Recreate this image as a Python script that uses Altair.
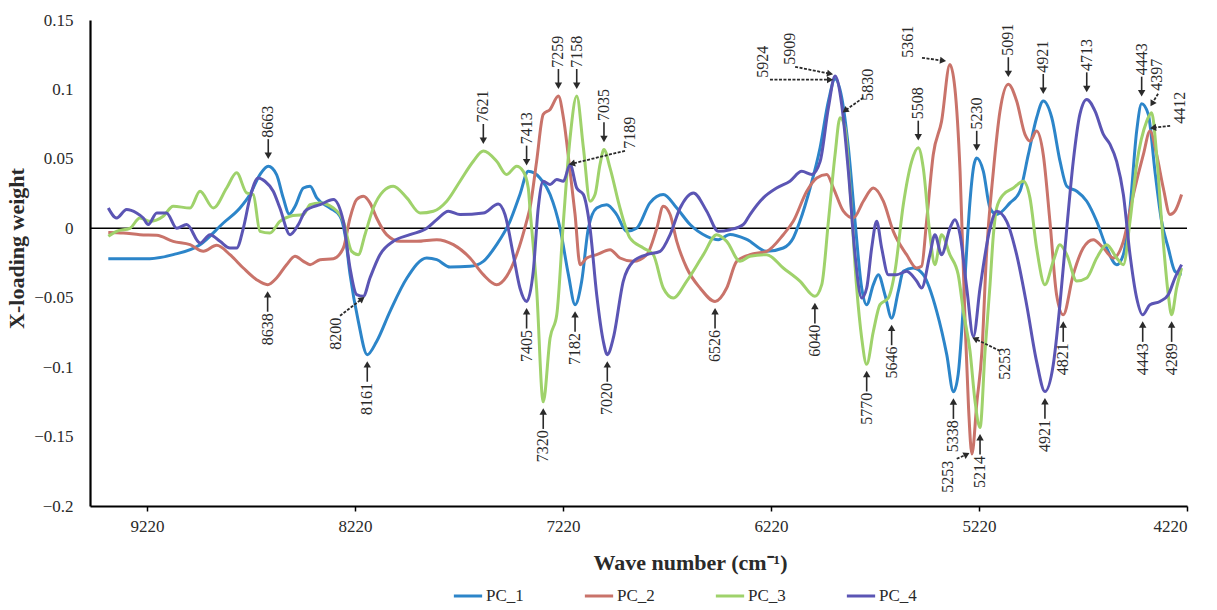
import altair as alt
import pandas as pd

SERIES = ["PC_1", "PC_2", "PC_3", "PC_4"]
COLORS = ["#2C85C9", "#C9736A", "#9FD26B", "#5B55B4"]

PC1 = [(9406,-0.022),(9206,-0.0219),(9094,-0.019),(8965,-0.0118),(8853,0.0038),(8773,0.0146),(8725,0.0243),(8677,0.0387),(8637,0.0447),(8597,0.0387),(8565,0.0219),(8536,0.0103),(8508,0.0159),(8468,0.029),(8436,0.0303),(8404,0.0219),(8340,0.0146),(8292,0.0087),(8268,-0.0045),(8244,-0.033),(8204,-0.067),(8161,-0.091),(8116,-0.0815),(8052,-0.060),(7971,-0.036),(7875,-0.0214),(7827,-0.0226),(7763,-0.0279),(7667,-0.0274),(7603,-0.0238),(7539,-0.0118),(7475,0.005),(7427,0.0243),(7387,0.041),(7331,0.0363),(7282,0.0243),(7234,0.0),(7194,-0.0334),(7162,-0.055),(7130,-0.038),(7098,0.0),(7058,0.0146),(7010,0.017),(6962,0.0099),(6914,-0.0022),(6866,0.0),(6802,0.0183),(6738,0.0243),(6673,0.0146),(6609,0.0027),(6529,-0.0058),(6473,-0.0082),(6417,-0.0045),(6337,-0.008),(6241,-0.0166),(6161,-0.0142),(6113,-0.007),(6081,0.005),(6032,0.029),(5984,0.058),(5944,0.0916),(5912,0.1075),(5880,0.0942),(5848,0.058),(5816,0.005),(5784,-0.043),(5760,-0.055),(5728,-0.0406),(5704,-0.0334),(5672,-0.048),(5640,-0.0647),(5608,-0.0454),(5584,-0.031),(5536,-0.0286),(5488,-0.0334),(5423,-0.06),(5375,-0.091),(5343,-0.1178),(5320,-0.105),(5297,-0.06),(5279,-0.015),(5263,0.02),(5245,0.045),(5231,0.0507),(5199,0.041),(5167,0.0146),(5135,0.01),(5071,0.0183),(5023,0.0267),(4983,0.053),(4943,0.0796),(4911,0.0916),(4870,0.0796),(4830,0.048),(4798,0.0303),(4750,0.0267),(4702,0.0195),(4654,0.005),(4606,-0.0142),(4558,-0.0262),(4526,-0.019),(4494,0.0146),(4462,0.07),(4438,0.0897),(4406,0.082),(4374,0.041),(4342,0.005),(4310,-0.0142),(4278,-0.031),(4246,-0.0334)]

PC2 = [(9406,-0.003),(9334,-0.0034),(9254,-0.0046),(9173,-0.005),(9094,-0.0094),(9013,-0.0118),(8949,-0.0166),(8885,-0.0123),(8821,-0.019),(8757,-0.0286),(8693,-0.037),(8640,-0.0406),(8597,-0.0358),(8549,-0.0262),(8508,-0.0202),(8468,-0.0238),(8436,-0.0262),(8388,-0.0226),(8324,-0.0219),(8276,-0.0142),(8244,0.0074),(8212,0.0207),(8180,0.0231),(8148,0.0183),(8116,0.0074),(8068,-0.0046),(8004,-0.0094),(7923,-0.0094),(7827,-0.0082),(7747,-0.0118),(7667,-0.0214),(7603,-0.0334),(7539,-0.0406),(7491,-0.0346),(7443,-0.019),(7395,0.005),(7379,0.0146),(7347,0.048),(7315,0.082),(7282,0.0856),(7242,0.0952),(7218,0.0796),(7186,0.041),(7162,0.0099),(7138,-0.0262),(7106,-0.0214),(7058,-0.019),(6994,-0.0154),(6946,-0.0214),(6882,-0.0238),(6817,-0.019),(6769,0.0),(6738,0.0159),(6705,0.0099),(6673,-0.0094),(6625,-0.0286),(6561,-0.043),(6489,-0.0527),(6433,-0.043),(6385,-0.0238),(6321,-0.019),(6241,-0.0166),(6161,-0.0046),(6113,0.005),(6048,0.0267),(6000,0.0363),(5952,0.0387),(5920,0.029),(5872,0.0123),(5824,0.0074),(5776,0.0195),(5728,0.029),(5680,0.0195),(5632,-0.0022),(5568,-0.019),(5520,-0.0286),(5496,-0.0274),(5472,0.005),(5440,0.053),(5400,0.077),(5360,0.118),(5336,0.101),(5311,0.041),(5287,-0.067),(5270,-0.13),(5254,-0.1626),(5230,-0.125),(5206,-0.0887),(5184,-0.019),(5151,0.041),(5119,0.0844),(5079,0.1037),(5039,0.0916),(4999,0.0676),(4975,0.0628),(4943,0.07),(4911,0.053),(4879,0.005),(4847,-0.0478),(4815,-0.0623),(4767,-0.0334),(4719,-0.0142),(4671,-0.0082),(4622,-0.0142),(4574,-0.0214),(4526,-0.0094),(4478,0.0243),(4430,0.053),(4398,0.07),(4366,0.053),(4334,0.029),(4302,0.0099),(4278,0.0123),(4246,0.0243)]

PC3 = [(9406,-0.0058),(9366,-0.0022),(9302,0.0),(9254,0.0074),(9206,0.005),(9142,0.0087),(9094,0.0159),(9013,0.0146),(8965,0.0267),(8901,0.0146),(8837,0.029),(8789,0.04),(8741,0.0255),(8709,0.0243),(8677,-0.0022),(8629,-0.0034),(8581,0.005),(8532,0.0087),(8468,0.0099),(8436,0.017),(8388,0.0183),(8324,0.0146),(8276,0.005),(8236,-0.0166),(8204,-0.019),(8172,-0.0046),(8132,0.0146),(8084,0.0267),(8036,0.0303),(7971,0.0219),(7907,0.011),(7843,0.0123),(7779,0.0195),(7715,0.0339),(7651,0.0483),(7603,0.0556),(7539,0.0483),(7491,0.0387),(7443,0.0447),(7411,0.041),(7387,0.029),(7379,0.0146),(7347,-0.043),(7315,-0.125),(7282,-0.079),(7250,-0.0623),(7218,0.005),(7186,0.065),(7154,0.0952),(7122,0.058),(7090,0.0195),(7066,0.0243),(7042,0.046),(7023,0.0568),(6994,0.0435),(6946,0.0146),(6898,-0.007),(6834,-0.0142),(6786,-0.019),(6738,-0.043),(6690,-0.0502),(6625,-0.038),(6545,-0.019),(6481,-0.0046),(6433,-0.0094),(6369,-0.0238),(6321,-0.0202),(6241,-0.019),(6161,-0.0286),(6081,-0.038),(6009,-0.049),(5976,-0.0406),(5944,0.005),(5912,0.053),(5888,0.0796),(5864,0.0724),(5840,0.029),(5808,-0.043),(5784,-0.079),(5760,-0.098),(5728,-0.0743),(5696,-0.055),(5656,-0.0502),(5624,-0.031),(5584,0.017),(5544,0.048),(5512,0.058),(5488,0.0435),(5456,-0.0046),(5432,-0.0262),(5400,-0.0046),(5360,-0.019),(5320,-0.0334),(5295,-0.06),(5263,-0.0887),(5239,-0.1246),(5215,-0.1435),(5191,-0.0887),(5167,-0.0406),(5151,-0.005),(5135,0.0146),(5103,0.0243),(5055,0.029),(5007,0.0339),(4975,0.0219),(4943,-0.0142),(4903,-0.0406),(4863,-0.0238),(4831,-0.0118),(4798,-0.019),(4750,-0.038),(4702,-0.0358),(4654,-0.0214),(4606,-0.0118),(4558,-0.0214),(4526,-0.0262),(4494,0.005),(4462,0.046),(4414,0.077),(4390,0.0832),(4366,0.053),(4342,0.005),(4310,-0.0478),(4294,-0.0623),(4270,-0.043),(4246,-0.0286)]

PC4 = [(9406,0.0146),(9366,0.0074),(9318,0.0135),(9270,0.011),(9238,0.0074),(9214,0.0027),(9173,0.011),(9126,0.011),(9077,0.0),(9029,0.0027),(8965,-0.0106),(8917,-0.0046),(8869,-0.0094),(8821,-0.0142),(8789,-0.0142),(8757,0.0),(8725,0.0219),(8685,0.0363),(8653,0.0339),(8613,0.0267),(8581,0.0146),(8532,-0.0046),(8492,0.0027),(8460,0.0123),(8436,0.0146),(8388,0.017),(8324,0.0207),(8276,0.005),(8244,-0.0286),(8212,-0.0478),(8180,-0.049),(8148,-0.0358),(8100,-0.019),(8036,-0.0094),(7956,-0.0046),(7875,0.0),(7827,0.0062),(7771,0.0123),(7715,0.0099),(7603,0.011),(7531,0.0175),(7499,0.0099),(7459,-0.019),(7427,-0.043),(7395,-0.0527),(7363,-0.031),(7339,0.0146),(7315,0.0339),(7282,0.0315),(7250,0.0351),(7218,0.0339),(7186,0.046),(7154,0.029),(7122,0.0243),(7090,0.0),(7058,-0.0478),(7026,-0.0815),(7007,-0.091),(6978,-0.079),(6930,-0.038),(6882,-0.0238),(6817,-0.019),(6753,-0.0166),(6705,-0.0046),(6657,0.0146),(6593,0.0255),(6529,0.0123),(6473,-0.0022),(6417,-0.001),(6353,0.0027),(6321,0.0099),(6257,0.0219),(6193,0.029),(6129,0.0339),(6072,0.041),(6024,0.0387),(5984,0.048),(5944,0.0868),(5912,0.1096),(5880,0.089),(5848,0.041),(5816,-0.019),(5784,-0.0502),(5760,-0.043),(5736,-0.0142),(5712,0.005),(5688,-0.0142),(5656,-0.0334),(5616,-0.0334),(5568,-0.031),(5520,-0.038),(5496,-0.043),(5456,-0.019),(5432,-0.0046),(5400,-0.019),(5360,0.0),(5336,0.0062),(5311,-0.0046),(5279,-0.043),(5247,-0.078),(5215,-0.043),(5167,0.0),(5135,0.0123),(5087,0.005),(5039,-0.019),(4991,-0.055),(4943,-0.096),(4903,-0.1176),(4863,-0.0983),(4831,-0.055),(4798,0.0),(4767,0.048),(4735,0.082),(4702,0.0928),(4662,0.0844),(4622,0.0676),(4590,0.0604),(4558,0.048),(4526,0.0243),(4494,-0.019),(4462,-0.0502),(4433,-0.0623),(4398,-0.055),(4350,-0.0527),(4310,-0.0478),(4278,-0.0358),(4246,-0.0262)]

# peak labels with a downward arrow (label above the peak)
PEAK_LABELS = ["8663", "7621", "7413", "7259", "7158", "7035", "5508", "5230", "5091", "4921", "4713", "4443"]
PEAK_WN = [8637, 7603, 7395, 7242, 7154, 7023, 5512, 5231, 5079, 4911, 4702, 4438]
PEAK_VAL = [0.0447, 0.0556, 0.040, 0.0952, 0.0952, 0.0568, 0.058, 0.0507, 0.1037, 0.0916, 0.0928, 0.0897]

# trough labels with an upward arrow (label below the trough)
TROUGH_LABELS = ["8638", "8161", "7405", "7320", "7182", "7020", "6526", "6040", "5770", "5646", "5338", "5214", "4921", "4821", "4443", "4289"]
TROUGH_WN = [8640, 8161, 7395, 7315, 7162, 7007, 6489, 6009, 5760, 5640, 5343, 5215, 4903, 4815, 4433, 4294]
TROUGH_VAL = [-0.0406, -0.091, -0.0527, -0.125, -0.055, -0.091, -0.0527, -0.049, -0.098, -0.0647, -0.1178, -0.1435, -0.1176, -0.0623, -0.0623, -0.0623]

# slanted leader-arrow labels
SLANT_LABELS = ["7189", "5924", "5909", "5830", "5361", "4397", "4412", "8200", "5253", "5253"]
SLANT_SIDE = ["up", "up", "up", "up", "up", "up", "up", "down", "down", "down"]
SLANT_TEXT_WN = [6898, 6258, 6128, 5753, 5561, 4364, 4253, 8311, 5369, 5095]
SLANT_TEXT_VAL = [0.0573, 0.1084, 0.1178, 0.0919, 0.1228, 0.099, 0.0753, -0.0645, -0.1675, -0.0861]
SLANT_TAIL_WN = [6922, 6225, 6104, 5777, 5494, 4359, 4301, 8292, 5327, 5119]
SLANT_TAIL_VAL = [0.0558, 0.107, 0.1163, 0.0940, 0.1228, 0.0969, 0.0738, -0.0630, -0.166, -0.0883]
SLANT_HEAD_WN = [7177, 5936, 5936, 5864, 5393, 4388, 4383, 8186, 5279, 5239]
SLANT_HEAD_VAL = [0.0465, 0.107, 0.1113, 0.0847, 0.1207, 0.0897, 0.0724, -0.0508, -0.1628, -0.0796]
SLANT_HEAD_ANGLE = [256, 90, 101, 234, 98, 211, 263, 52, 63, 296]

X_TICKS = [9220, 8220, 7220, 6220, 5220, 4220]
Y_TICKS = [-0.2, -0.15, -0.1, -0.05, 0, 0.05, 0.1, 0.15]

SERIF = "Liberation Serif"
INK = "#2a2a2a"

rows = []
for name, pts in zip(SERIES, [PC1, PC2, PC3, PC4]):
    for i, (w, v) in enumerate(pts):
        rows.append({"series": name, "wn": w, "val": v, "order": i})
df = pd.DataFrame(rows)

xs = alt.Scale(domain=[4220, 9494], reverse=True, nice=False, zero=False)
ys = alt.Scale(domain=[-0.2, 0.15], nice=False, zero=False)

x_axis = alt.Axis(values=X_TICKS, format="d", grid=False, tickSize=5, tickColor="black",
                  tickWidth=1.5, domainColor="black", domainWidth=2.2, labelFont=SERIF,
                  labelFontSize=17, labelColor=INK, labelPadding=7,
                  title="Wave number  (cm⁻¹)", titleFont=SERIF, titleFontSize=22,
                  titleFontWeight="bold", titleColor=INK, titleX=600, titleY=46,
                  titleAnchor="middle", titleAlign="center", titleBaseline="top")
y_axis = alt.Axis(values=Y_TICKS, labelExpr="datum.value == 0 ? '0' : format(datum.value, '.2~f')",
                  grid=False, ticks=False, domainColor="black", domainWidth=2.2,
                  labelFont=SERIF, labelFontSize=17, labelColor=INK, labelPadding=17,
                  title="X-loading weight", titleFont=SERIF, titleFontSize=22,
                  titleFontWeight="bold", titleColor=INK, titleX=-62, titleY=228,
                  titleAnchor="middle", titleAlign="center", titleBaseline="bottom", titleAngle=270)

zero = alt.Chart(pd.DataFrame({"y": [0]})).mark_rule(color="black", strokeWidth=1.6).encode(
    y=alt.Y("y:Q", scale=ys, axis=y_axis))

lines = alt.Chart(df).mark_line(strokeWidth=3, interpolate="monotone").encode(
    x=alt.X("wn:Q", scale=xs, axis=x_axis),
    y=alt.Y("val:Q", scale=ys, axis=y_axis),
    color=alt.Color("series:N", scale=alt.Scale(domain=SERIES, range=COLORS),
                    legend=alt.Legend(title=None, orient="none", legendX=362, legendY=560,
                                      direction="horizontal", symbolType="stroke",
                                      symbolStrokeWidth=3, symbolSize=800,
                                      labelFont=SERIF, labelFontSize=17, labelColor=INK,
                                      columnPadding=54, padding=0, labelOffset=2)),
    detail="series:N",
)

# vertical arrow annotations
peak = pd.DataFrame({"label": PEAK_LABELS, "wn": PEAK_WN, "val": PEAK_VAL})
peak["head"] = peak["val"] + 0.0075
peak["s1"] = peak["val"] + 0.008
peak["s2"] = peak["val"] + 0.0195
peak["ty"] = peak["val"] + 0.0205

trough = pd.DataFrame({"label": TROUGH_LABELS, "wn": TROUGH_WN, "val": TROUGH_VAL})
trough["head"] = trough["val"] - 0.0070
trough["s1"] = trough["val"] - 0.008
trough["s2"] = trough["val"] - 0.0195
trough["ty"] = trough["val"] - 0.0205

def vertical_layers(d, shape, align):
    base = alt.Chart(d)
    shaft = base.mark_rule(color=INK, strokeWidth=1.6).encode(
        x=alt.X("wn:Q", scale=xs), y=alt.Y("s1:Q", scale=ys), y2="s2:Q")
    head = base.mark_point(shape=shape, filled=True, size=55, color=INK, opacity=1).encode(
        x=alt.X("wn:Q", scale=xs), y=alt.Y("head:Q", scale=ys))
    text = base.mark_text(angle=270, align=align, baseline="middle", font=SERIF,
                          fontSize=16, color=INK).encode(
        x=alt.X("wn:Q", scale=xs), y=alt.Y("ty:Q", scale=ys), text="label:N")
    return [shaft, head, text]

slant = pd.DataFrame({"label": SLANT_LABELS, "side": SLANT_SIDE,
                      "tx": SLANT_TEXT_WN, "ty": SLANT_TEXT_VAL,
                      "x1": SLANT_TAIL_WN, "y1": SLANT_TAIL_VAL,
                      "x2": SLANT_HEAD_WN, "y2": SLANT_HEAD_VAL,
                      "ang": SLANT_HEAD_ANGLE})

slant_line = alt.Chart(slant).mark_rule(color=INK, strokeWidth=1.8, strokeDash=[3, 1.5]).encode(
    x=alt.X("x1:Q", scale=xs), y=alt.Y("y1:Q", scale=ys), x2="x2:Q", y2="y2:Q")
slant_head = alt.Chart(slant).mark_point(shape="triangle-up", filled=True, size=50,
                                         color=INK, opacity=1).encode(
    x=alt.X("x2:Q", scale=xs), y=alt.Y("y2:Q", scale=ys), angle=alt.Angle("ang:Q", scale=None))
slant_text_up = alt.Chart(slant).transform_filter("datum.side == 'up'").mark_text(
    angle=270, align="left", baseline="middle", font=SERIF, fontSize=16, color=INK).encode(
    x=alt.X("tx:Q", scale=xs), y=alt.Y("ty:Q", scale=ys), text="label:N")
slant_text_down = alt.Chart(slant).transform_filter("datum.side == 'down'").mark_text(
    angle=270, align="right", baseline="middle", font=SERIF, fontSize=16, color=INK).encode(
    x=alt.X("tx:Q", scale=xs), y=alt.Y("ty:Q", scale=ys), text="label:N")

layers = [zero, lines] + vertical_layers(peak, "triangle-down", "left") + \
    vertical_layers(trough, "triangle-up", "right") + \
    [slant_line, slant_head, slant_text_up, slant_text_down]

chart = alt.layer(*layers).properties(
    width=1097, height=486,
    padding={"left": 90, "top": 20, "right": 30, "bottom": 104},
    autosize=alt.AutoSizeParams(type="none"),
    background="white",
).configure_view(stroke=None)

chart.save("out.html", embed_options={"renderer": "svg", "actions": False})
